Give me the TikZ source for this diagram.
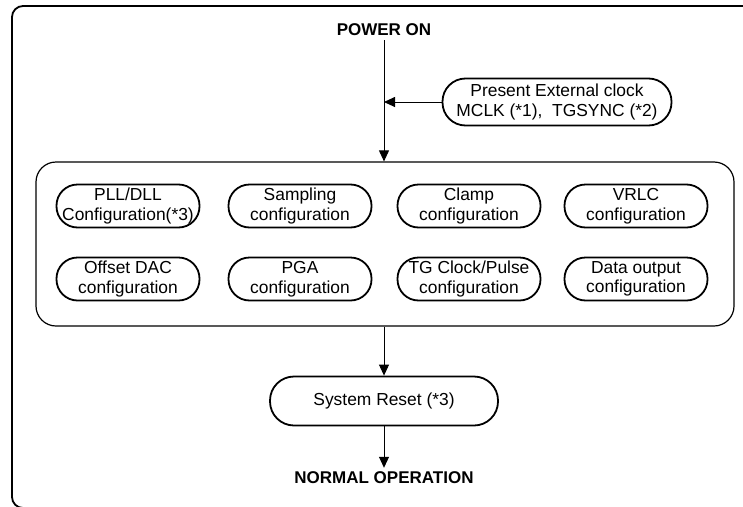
\documentclass[tikz,border=0pt]{standalone}
\usepackage{fontspec}
\setmainfont{Liberation Sans}
\usetikzlibrary{arrows.meta}
\begin{document}
\begin{tikzpicture}[x=1pt,y=-1pt,
  txt/.style={font=\fontsize{17.4}{19.5}\selectfont, align=center},
  title/.style={font=\bfseries\fontsize{17}{19}\selectfont, inner sep=4pt},
  cfgbox/.style={txt, draw, line width=1.8pt, rounded corners=21pt, minimum width=143pt, minimum height=43pt, inner sep=0pt},
  stadium/.style={txt, draw, line width=1.8pt, inner sep=0pt},
  conn/.style={line width=0.9pt, -{Triangle[length=11pt,width=10pt]}},
]
\useasboundingbox (0,0) rectangle (743,506);
\begin{scope}
\clip (0,0) rectangle (743,506);
\draw[line width=1.8pt, rounded corners=11pt] (12,6) rectangle (780,508);
\end{scope}

\node[title] (pon) at (384,30) {POWER ON};
\node[stadium, rounded corners=23pt, minimum width=229pt, minimum height=47pt] (ext) at (557,102) {Present External clock\\MCLK (*1),\ \ TGSYNC (*2)};
\node[draw, line width=1.2pt, rounded corners=20pt, minimum width=698pt, minimum height=164pt, inner sep=0pt] (inner) at (385,244) {};

\node[cfgbox] (pll) at (128,206) {PLL/DLL\\Configuration(*3)};
\node[cfgbox] (samp) at (300,206) {Sampling\\configuration};
\node[cfgbox] (clamp) at (469,206) {Clamp\\configuration};
\node[cfgbox] (vrlc) at (636,206) {VRLC\\configuration};
\node[cfgbox] (odac) at (128,279) {Offset DAC\\configuration};
\node[cfgbox] (pga) at (300,279) {PGA\\configuration};
\node[cfgbox] (tg) at (469,279) {TG Clock/Pulse\\configuration};
\node[cfgbox] (dout) at (636,279) {Data output\\configuration};

\node[stadium, rounded corners=24pt, minimum width=228pt, minimum height=49pt] (reset) at (384,401) {System Reset (*3)};
\node[title] (norm) at (384,478) {NORMAL OPERATION};

\coordinate (join) at (384,102);
\draw[line width=0.9pt] (pon.south) -- (join);
\draw[conn] (join) -- (pon.south |- inner.north);
\draw[conn] (ext.west) -- (join);
\draw[conn] (pon.south |- inner.south) -- (reset.north);
\draw[conn] (reset.south) -- (norm.north);
\end{tikzpicture}
\end{document}
